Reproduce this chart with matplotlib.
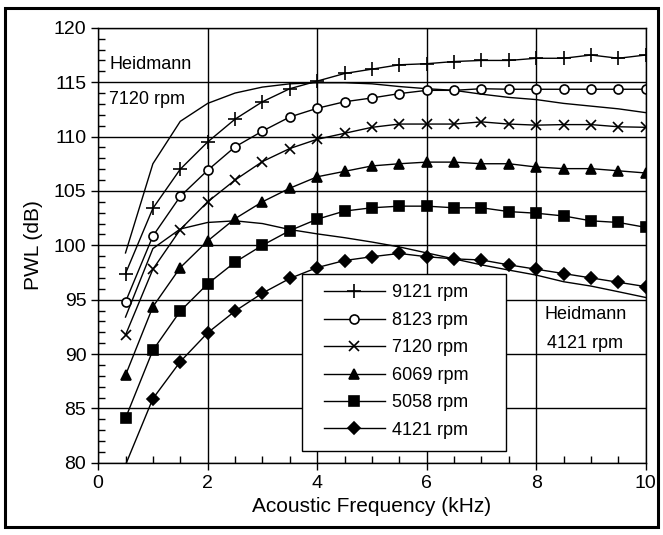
import matplotlib.pyplot as plt
import numpy as np
from matplotlib.patches import Rectangle
from matplotlib.ticker import MultipleLocator

plt.rcParams['font.family'] = ['Liberation Sans', 'DejaVu Sans']

freq = np.arange(1, 21) * 0.5

pwl_9121 = [97.4, 103.4, 107.0, 109.5, 111.6, 113.2, 114.4, 115.1, 115.8, 116.2,
            116.6, 116.7, 116.9, 117.0, 117.0, 117.2, 117.2, 117.5, 117.2, 117.5]
pwl_8123 = [94.8, 100.85, 104.5, 106.9, 109.05, 110.5, 111.8, 112.6, 113.2, 113.55,
            113.95, 114.25, 114.25, 114.4, 114.35, 114.35, 114.35, 114.35, 114.35, 114.35]
pwl_7120 = [91.75, 97.8, 101.45, 104.0, 106.0, 107.7, 108.9, 109.75, 110.3, 110.85,
            111.15, 111.15, 111.15, 111.35, 111.15, 111.05, 111.1, 111.1, 110.9, 110.85]
pwl_6069 = [88.05, 94.35, 97.95, 100.4, 102.45, 104.0, 105.25, 106.3, 106.8, 107.3,
            107.5, 107.65, 107.65, 107.5, 107.5, 107.2, 107.05, 107.05, 106.85, 106.65]
pwl_5058 = [84.1, 90.35, 93.95, 96.45, 98.45, 100.0, 101.35, 102.4, 103.15, 103.45,
            103.6, 103.6, 103.45, 103.45, 103.1, 102.95, 102.7, 102.25, 102.1, 101.65]
pwl_4121 = [79.8, 85.9, 89.3, 91.95, 93.95, 95.6, 96.95, 97.95, 98.6, 98.95,
            99.25, 98.95, 98.75, 98.65, 98.2, 97.8, 97.4, 97.0, 96.6, 96.2]

heid_7120 = [99.3, 107.5, 111.4, 113.05, 114.0, 114.55, 114.85, 114.95, 114.95, 114.85,
             114.6, 114.4, 114.25, 113.9, 113.6, 113.4, 113.05, 112.8, 112.55, 112.2]
heid_4121 = [93.4, 99.7, 101.5, 102.1, 102.25, 102.0, 101.45, 101.05, 100.7, 100.3,
             99.85, 99.3, 98.75, 98.2, 97.72, 97.26, 96.65, 96.25, 95.73, 95.2]

series = [
    ('9121 rpm', pwl_9121, '+', 'k', 10),
    ('8123 rpm', pwl_8123, 'o', 'white', 6.5),
    ('7120 rpm', pwl_7120, 'x', 'k', 7),
    ('6069 rpm', pwl_6069, '^', 'k', 7),
    ('5058 rpm', pwl_5058, 's', 'k', 6.5),
    ('4121 rpm', pwl_4121, 'D', 'k', 6),
]

fig = plt.figure(figsize=(6.63, 5.35), dpi=100)
ax = fig.add_axes([0.148, 0.135, 0.826, 0.813])

ax.plot(freq, heid_7120, color='k', lw=1.0)
ax.plot(freq, heid_4121, color='k', lw=1.0)

for label, vals, mk, fc, ms in series:
    # points below the axis floor get no marker, as in the original
    shown = [i for i, v in enumerate(vals) if v >= 80]
    ax.plot(freq, vals, color='k', lw=1.0, marker=mk, ms=ms, mfc=fc, mec='k',
            mew=1.2, markevery=shown, label=label)

ax.set_xlim(0, 10)
ax.set_ylim(80, 120)
ax.xaxis.set_major_locator(MultipleLocator(2))
ax.xaxis.set_minor_locator(MultipleLocator(0.5))
ax.yaxis.set_major_locator(MultipleLocator(5))
ax.yaxis.set_minor_locator(MultipleLocator(1))
ax.grid(True, which='major', color='k', lw=1.0)
ax.tick_params(which='major', direction='out', length=5, width=1, labelsize=14,
               top=False, right=False)
ax.tick_params(which='minor', direction='in', length=5, width=1,
               top=False, right=False)
for sp in ax.spines.values():
    sp.set_linewidth(1.0)

ax.set_xlabel('Acoustic Frequency (kHz)', fontsize=15)
ax.set_ylabel('PWL (dB)', fontsize=15, labelpad=8)

ax.text(0.2, 116.6, 'Heidmann', fontsize=13, va='center')
ax.text(0.2, 113.45, '7120 rpm', fontsize=13, va='center')
ax.text(8.15, 93.6, 'Heidmann', fontsize=13, va='center')
ax.text(8.2, 91.0, '4121 rpm', fontsize=13, va='center')

# legend box is wider than its content, so draw the frame separately
ax.add_patch(Rectangle((0.373, 0.027), 0.371, 0.408, transform=ax.transAxes,
                       facecolor='white', edgecolor='k', lw=1.0, zorder=4))
ax.legend(loc='upper left', bbox_to_anchor=(0.412, 0.410), fontsize=13,
          handlelength=3.4, handletextpad=0.4, labelspacing=0.58,
          borderpad=0, borderaxespad=0, frameon=False)

fig.patches.append(Rectangle((0.008, 0.015), 0.984, 0.97, transform=fig.transFigure,
                             fill=False, edgecolor='k', lw=2.2))

fig.savefig('out.png', dpi=100)
